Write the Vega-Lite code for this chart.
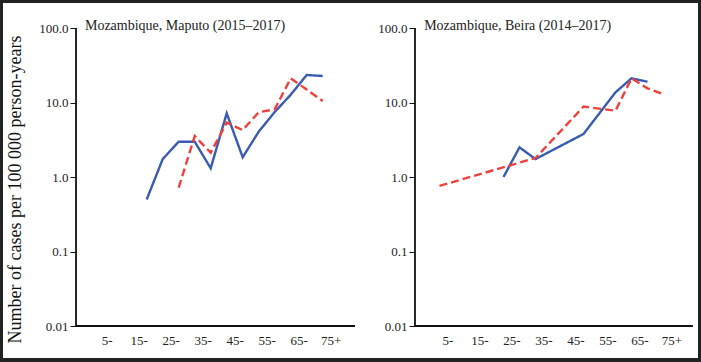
{
  "$schema": "https://vega.github.io/schema/vega-lite/v6.json",
  "background": "#222222",
  "padding": {"left": 3, "top": 3, "right": 3, "bottom": 4},
  "spacing": 0,
  "config": {
    "view": {"stroke": null, "fill": "white"},
    "font": "Liberation Serif",
    "axis": {"grid": false, "domain": false, "labelFont": "Liberation Serif", "titleFont": "Liberation Serif", "labelColor": "#222222", "titleColor": "#111111", "labelFontSize": 13, "titleFontWeight": "normal"}
  },
  "datasets": {
    "maputo": [
      {"age": 17.5, "rate": 0.50, "series": "Series 1"},
      {"age": 22.5, "rate": 1.74, "series": "Series 1"},
      {"age": 27.5, "rate": 2.98, "series": "Series 1"},
      {"age": 32.5, "rate": 2.98, "series": "Series 1"},
      {"age": 37.5, "rate": 1.31, "series": "Series 1"},
      {"age": 42.5, "rate": 7.16, "series": "Series 1"},
      {"age": 47.5, "rate": 1.84, "series": "Series 1"},
      {"age": 52.5, "rate": 4.06, "series": "Series 1"},
      {"age": 57.5, "rate": 7.45, "series": "Series 1"},
      {"age": 62.5, "rate": 12.7, "series": "Series 1"},
      {"age": 67.5, "rate": 23.4, "series": "Series 1"},
      {"age": 72.5, "rate": 22.7, "series": "Series 1"},
      {"age": 27.5, "rate": 0.72, "series": "Series 2"},
      {"age": 32.5, "rate": 3.55, "series": "Series 2"},
      {"age": 37.5, "rate": 2.12, "series": "Series 2"},
      {"age": 42.5, "rate": 5.36, "series": "Series 2"},
      {"age": 47.5, "rate": 4.27, "series": "Series 2"},
      {"age": 52.5, "rate": 7.39, "series": "Series 2"},
      {"age": 57.5, "rate": 8.1, "series": "Series 2"},
      {"age": 62.5, "rate": 21.1, "series": "Series 2"},
      {"age": 67.5, "rate": 14.9, "series": "Series 2"},
      {"age": 72.5, "rate": 10.5, "series": "Series 2"}
    ],
    "beira": [
      {"age": 22.5, "rate": 1.0, "series": "Series 1"},
      {"age": 27.5, "rate": 2.5, "series": "Series 1"},
      {"age": 32.5, "rate": 1.74, "series": "Series 1"},
      {"age": 47.5, "rate": 3.78, "series": "Series 1"},
      {"age": 57.5, "rate": 13.7, "series": "Series 1"},
      {"age": 62.5, "rate": 21.1, "series": "Series 1"},
      {"age": 67.5, "rate": 19.0, "series": "Series 1"},
      {"age": 2.5, "rate": 0.76, "series": "Series 2"},
      {"age": 32.5, "rate": 1.8, "series": "Series 2"},
      {"age": 47.5, "rate": 8.8, "series": "Series 2"},
      {"age": 57.5, "rate": 7.76, "series": "Series 2"},
      {"age": 62.5, "rate": 21.1, "series": "Series 2"},
      {"age": 67.5, "rate": 15.5, "series": "Series 2"},
      {"age": 72.5, "rate": 12.9, "series": "Series 2"}
    ],
    "one": [{}]
  },
  "hconcat": [
    {
      "width": 362,
      "height": 355,
      "layer": [
        {
          "data": {"name": "maputo"},
          "mark": {"type": "line", "strokeWidth": 2.4},
          "encoding": {
            "x": {"field": "age", "type": "quantitative",
              "scale": {"domain": [-27.41, 85.72], "nice": false, "zero": false},
              "axis": {"orient": "bottom", "offset": -32, "values": [5, 15, 25, 35, 45, 55, 65, 75], "labelExpr": "datum.value == 75 ? '75+' : datum.value + '-'", "ticks": false, "tickSize": 0, "labelPadding": 8, "title": null, "labelFlush": false, "labelOverlap": false}},
            "y": {"field": "rate", "type": "quantitative",
              "scale": {"type": "log", "domain": [0.00372, 216.6], "nice": false},
              "axis": {"orient": "left", "offset": -73, "values": [0.01, 0.1, 1, 10, 100], "labelExpr": "datum.value >= 1 ? format(datum.value, '.1f') : (datum.value >= 0.1 ? '0.1' : '0.01')", "tickSize": 6, "tickColor": "#111111", "tickWidth": 1, "labelPadding": 2, "title": "Number of cases per 100 000 person-years", "titleFontSize": 18, "titlePadding": 14, "titleY": 186, "labelFlush": false, "labelOverlap": false}},
            "color": {"field": "series", "type": "nominal", "scale": {"domain": ["Series 1", "Series 2"], "range": ["#3a5bb3", "#f0403c"]}, "legend": null},
            "strokeDash": {"field": "series", "type": "nominal", "scale": {"domain": ["Series 1", "Series 2"], "range": [[1, 0], [8, 4]]}, "legend": null}
          }
        },
        {
          "data": {"name": "one"},
          "mark": {"type": "rule", "color": "#111111", "strokeWidth": 1.8},
          "encoding": {"x": {"datum": -4.59, "type": "quantitative"}, "y": {"datum": 0.01, "type": "quantitative"}, "y2": {"datum": 100}}
        },
        {
          "data": {"name": "one"},
          "mark": {"type": "rule", "color": "#111111", "strokeWidth": 1.8},
          "encoding": {"x": {"datum": -4.59, "type": "quantitative"}, "x2": {"datum": 82.6}, "y": {"datum": 0.01, "type": "quantitative"}}
        },
        {
          "data": {"name": "one"},
          "mark": {"type": "text", "align": "left", "baseline": "alphabetic", "dy": 2, "fontSize": 14, "color": "#222222", "font": "Liberation Serif"},
          "encoding": {"x": {"datum": -1.8, "type": "quantitative"}, "y": {"datum": 100, "type": "quantitative"}, "text": {"value": "Mozambique, Maputo (2015–2017)"}}
        }
      ]
    },
    {
      "width": 333,
      "height": 355,
      "layer": [
        {
          "data": {"name": "beira"},
          "mark": {"type": "line", "strokeWidth": 2.4},
          "encoding": {
            "x": {"field": "age", "type": "quantitative",
              "scale": {"domain": [-20.78, 83.28], "nice": false, "zero": false},
              "axis": {"orient": "bottom", "offset": -32, "values": [5, 15, 25, 35, 45, 55, 65, 75], "labelExpr": "datum.value == 75 ? '75+' : datum.value + '-'", "ticks": false, "tickSize": 0, "labelPadding": 8, "title": null, "labelFlush": false, "labelOverlap": false}},
            "y": {"field": "rate", "type": "quantitative",
              "scale": {"type": "log", "domain": [0.00372, 216.6], "nice": false},
              "axis": {"orient": "left", "offset": -50, "values": [0.01, 0.1, 1, 10, 100], "labelExpr": "datum.value >= 1 ? format(datum.value, '.1f') : (datum.value >= 0.1 ? '0.1' : '0.01')", "tickSize": 6, "tickColor": "#111111", "tickWidth": 1, "labelPadding": 2, "title": null, "labelFlush": false, "labelOverlap": false}},
            "color": {"field": "series", "type": "nominal", "scale": {"domain": ["Series 1", "Series 2"], "range": ["#3a5bb3", "#f0403c"]}, "legend": null},
            "strokeDash": {"field": "series", "type": "nominal", "scale": {"domain": ["Series 1", "Series 2"], "range": [[1, 0], [8, 4]]}, "legend": null}
          }
        },
        {
          "data": {"name": "one"},
          "mark": {"type": "rule", "color": "#111111", "strokeWidth": 1.8},
          "encoding": {"x": {"datum": -5.16, "type": "quantitative"}, "y": {"datum": 0.01, "type": "quantitative"}, "y2": {"datum": 100}}
        },
        {
          "data": {"name": "one"},
          "mark": {"type": "rule", "color": "#111111", "strokeWidth": 1.8},
          "encoding": {"x": {"datum": -5.16, "type": "quantitative"}, "x2": {"datum": 81.7}, "y": {"datum": 0.01, "type": "quantitative"}}
        },
        {
          "data": {"name": "one"},
          "mark": {"type": "text", "align": "left", "baseline": "alphabetic", "dy": 2, "fontSize": 14, "color": "#222222", "font": "Liberation Serif"},
          "encoding": {"x": {"datum": -2.3, "type": "quantitative"}, "y": {"datum": 100, "type": "quantitative"}, "text": {"value": "Mozambique, Beira (2014–2017)"}}
        }
      ]
    }
  ]
}
